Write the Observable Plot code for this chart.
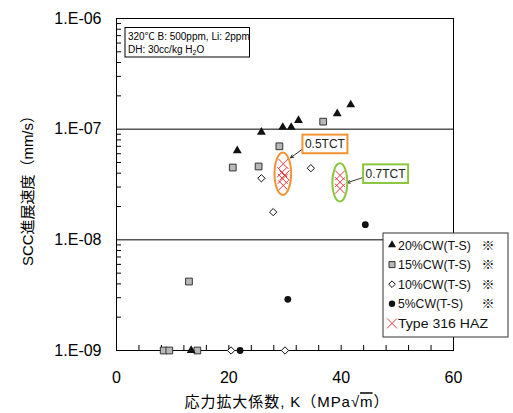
<!DOCTYPE html>
<html><head><meta charset="utf-8">
<script src="https://cdn.jsdelivr.net/npm/d3@7"></script>
<script src="https://cdn.jsdelivr.net/npm/@observablehq/plot@0.6"></script>
<style>
html,body{margin:0;padding:0;background:#fff}
#chart{position:absolute;left:0;top:0}
</style></head><body><div id="chart"></div>
<script>
// ---- data (K in MPa√m, rate in mm/s) ----
const K20 = [13.3, 21.5, 25.8, 29.6, 31.1, 32.4, 39.3, 41.7];
const V20 = [1e-9, 6.4e-8, 9.4e-8, 1.04e-7, 1.04e-7, 1.2e-7, 1.38e-7, 1.66e-7];
const K15 = [8.4, 9.4, 14.4, 12.9, 20.7, 25.3, 29.0, 36.8];
const V15 = [1e-9, 1e-9, 1e-9, 4.2e-9, 4.5e-8, 4.6e-8, 7.0e-8, 1.17e-7];
const K10 = [20.4, 30.0, 25.8, 27.9, 34.6];
const V10 = [1e-9, 1e-9, 3.6e-8, 1.78e-8, 4.44e-8];
const K5 = [22.0, 30.5, 44.3];
const V5 = [1e-9, 2.9e-9, 1.37e-8];
const KHAZ = [29.7, 29.5, 29.9, 29.6, 29.7, 39.8, 39.8, 39.8];
const VHAZ = [4.86e-8, 4.09e-8, 3.82e-8, 3.56e-8, 3.1e-8, 3.82e-8, 3.32e-8, 2.9e-8];

const seriesNames = ["20%CW(T-S)", "15%CW(T-S)", "10%CW(T-S)", "5%CW(T-S)", "Type 316 HAZ"];
const seriesNotes = ["※", "※", "※", "※", ""];

const xTicks = [0, 20, 40, 60];
const xTickLabels = ["0", "20", "40", "60"];
const xMinor = [4, 8, 12, 16, 20, 24, 28, 32, 36, 40, 44, 48, 52, 56];
const yTicks = [1e-9, 1e-8, 1e-7, 1e-6];
const yTickLabels = ["1.E-09", "1.E-08", "1.E-07", "1.E-06"];
const yGrid = [1e-8, 1e-7];
const yMinor = [];
[1e-9, 1e-8, 1e-7].forEach(d => [2,3,4,5,6,7,8,9].forEach(m => yMinor.push(m * d)));

const xTitle = "応力拡大係数, K（MPa√";
const xTitleEnd = "m";
const xTitleClose = "）";
const yTitle = "SCC進展速度（mm/s）";
const infoLines = ["320℃ B: 500ppm, Li: 2ppm", "DH: 30cc/kg H"];

// annotations (TCT groups)
const tctNames = ["0.5TCT", "0.7TCT"];
const tctColors = ["#f39434", "#8cc63f"];
const ellK = [29.7, 39.85];
const ellV = [3.92e-8, 3.27e-8];
const lblK = [37.2, 48.0];
const lblV = [7.28e-8, 3.92e-8];
const arrK1 = [33.2, 44.05], arrV1 = [6.65e-8, 3.68e-8];
const arrK2 = [31.0, 41.05], arrV2 = [5.52e-8, 3.28e-8];

const FONT = "'Liberation Sans', Arial, 'Noto Sans CJK JP', sans-serif";
const RED = "#ec3a3f";
const SQFILL = "#b8b8b8";

const pts = (K, V) => K.map((k, i) => ({k, v: V[i]}));

const W = 513, H = 413, ML = 116, MR = 60, MT = 18, MB = 63;
const FW = W - ML - MR, FH = H - MT - MB;

const plot = Plot.plot({
  width: W, height: H,
  marginLeft: ML, marginRight: MR, marginTop: MT, marginBottom: MB,
  style: {fontFamily: FONT, fontSize: "16px", color: "black", background: "white", overflow: "visible"},
  x: {domain: [0, 60]},
  y: {type: "log", domain: [1e-9, 1e-6]},
  marks: [
    Plot.ruleY(yGrid, {stroke: "black", strokeWidth: 1}),
    Plot.ruleY(yMinor, {insetRight: FW - 5, stroke: "black", strokeWidth: 1}),
    Plot.ruleX(xMinor, {insetTop: FH - 5, stroke: "black", strokeWidth: 1}),
    Plot.frame({stroke: "black", strokeWidth: 1}),
    Plot.axisY({ticks: yTicks, tickFormat: d => yTickLabels[yTicks.indexOf(d)], tickSize: 0, tickPadding: 15, label: null, fontSize: 16}),
    Plot.axisX({ticks: xTicks, tickFormat: d => xTickLabels[xTicks.indexOf(d)], tickSize: 0, tickPadding: 21, label: null, fontSize: 16}),
    Plot.dot(pts(K5, V5), {x: "k", y: "v", symbol: "circle", r: 3.4, fill: "#111", stroke: "none"}),
    Plot.dot(pts(K10, V10), {x: "k", y: "v", symbol: "diamond2", r: 3.3, fill: "white", stroke: "#111", strokeWidth: 1}),
    Plot.dot(pts(K15, V15), {x: "k", y: "v", symbol: "square", r: 3.8, fill: SQFILL, stroke: "#333", strokeWidth: 1}),
    Plot.dot(pts(K20, V20), {x: "k", y: "v", symbol: "triangle", r: 3.3, fill: "#111", stroke: "none"}),
    Plot.dot(pts(KHAZ, VHAZ), {x: "k", y: "v", symbol: "times", r: 4.6, stroke: RED, strokeWidth: 1}),
    Plot.arrow([0, 1], {x1: arrK1, y1: arrV1, x2: arrK2, y2: arrV2, stroke: "black", strokeWidth: 0.8, headLength: 6, headAngle: 55})
  ]
});
document.getElementById("chart").appendChild(plot);

const svg = d3.select(plot);
const sx = plot.scale("x"), sy = plot.scale("y");
const X = v => sx.apply(v), Y = v => sy.apply(v);

// ellipses around TCT groups
const ellR = [[8.3, 21.3], [7.5, 19.2]];
tctNames.forEach((n, i) => {
  svg.append("ellipse")
    .attr("cx", X(ellK[i])).attr("cy", Y(ellV[i]))
    .attr("rx", ellR[i][0]).attr("ry", ellR[i][1])
    .attr("fill", "none").attr("stroke", tctColors[i]).attr("stroke-width", 2);
  const cx = X(lblK[i]), cy = Y(lblV[i]);
  svg.append("rect")
    .attr("x", cx - 22.5).attr("y", cy - 9.3).attr("width", 45).attr("height", 18.6)
    .attr("fill", "white").attr("stroke", tctColors[i]).attr("stroke-width", 2);
  svg.append("text").attr("x", cx).attr("y", cy).attr("text-anchor", "middle")
    .attr("dy", "0.36em").attr("font-size", 12).attr("font-family", FONT).attr("fill", "#222").text(n);
});

// info box
const ib = svg.append("g").attr("text-anchor", "start");
ib.append("rect").attr("x", ML + 9).attr("y", MT + 9.5).attr("width", 124.5).attr("height", 29.5)
  .attr("fill", "white").attr("stroke", "black").attr("stroke-width", 1);
ib.append("text").attr("x", ML + 12).attr("y", MT + 21.5).attr("font-size", 10).attr("font-family", FONT).text(infoLines[0]);
const t2 = ib.append("text").attr("x", ML + 12).attr("y", MT + 35).attr("font-size", 10).attr("font-family", FONT);
t2.append("tspan").text(infoLines[1]);
t2.append("tspan").attr("font-size", 7).attr("dy", 2).text("2");
t2.append("tspan").attr("dy", -2).text("O");

// legend
const lg = svg.append("g").attr("text-anchor", "start");
const LX = 383, LY = 233, LW = 125, LH = 104;
lg.append("rect").attr("x", LX).attr("y", LY).attr("width", LW).attr("height", LH)
  .attr("fill", "white").attr("stroke", "#333").attr("stroke-width", 1);
const symDefs = [
  {type: d3.symbolTriangle, r: 3.0, fill: "#111", stroke: "none"},
  {type: d3.symbolSquare, r: 3.4, fill: SQFILL, stroke: "#333"},
  {type: d3.symbolDiamond2, r: 3.0, fill: "white", stroke: "#111"},
  {type: d3.symbolCircle, r: 3.2, fill: "#111", stroke: "none"},
  {type: d3.symbolTimes, r: 4.6, fill: "none", stroke: RED}
];
const legTextLen = [73, 73, 73, 65, 90];
seriesNames.forEach((n, i) => {
  const cy = LY + 12 + i * 19.6;
  const s = symDefs[i];
  lg.append("path").attr("transform", `translate(${LX + 9},${cy})`)
    .attr("d", d3.symbol(s.type, Math.PI * s.r * s.r)())
    .attr("fill", s.fill).attr("stroke", s.stroke).attr("stroke-width", 1);
  lg.append("text").attr("x", LX + 15).attr("y", cy).attr("dy", "0.36em")
    .attr("font-size", 13).attr("textLength", legTextLen[i]).attr("lengthAdjust", "spacingAndGlyphs")
    .attr("font-family", FONT).attr("fill", "#111").text(n);
  if (seriesNotes[i]) lg.append("text").attr("x", LX + 105).attr("y", cy).attr("dy", "0.36em")
    .attr("text-anchor", "middle").attr("font-size", 13).attr("font-family", FONT).attr("fill", "#111").text(seriesNotes[i]);
});

// axis titles
svg.append("text").attr("transform", `translate(27.5,${MT + FH / 2 + 3}) rotate(-90)`)
  .attr("text-anchor", "middle").attr("dy", "0.35em").attr("font-size", 15)
  .attr("textLength", 158).attr("lengthAdjust", "spacingAndGlyphs")
  .attr("font-family", FONT).text(yTitle);
const xt = svg.append("text").attr("x", ML + FW / 2 + 2).attr("y", 402).attr("text-anchor", "middle")
  .attr("dy", "0.35em").attr("font-size", 15).attr("font-family", FONT)
  .attr("textLength", 204).attr("lengthAdjust", "spacing");
xt.append("tspan").text(xTitle);
xt.append("tspan").attr("text-decoration", "overline").style("text-decoration", "overline").text(xTitleEnd);
xt.append("tspan").text(xTitleClose);
</script>
</body></html>
